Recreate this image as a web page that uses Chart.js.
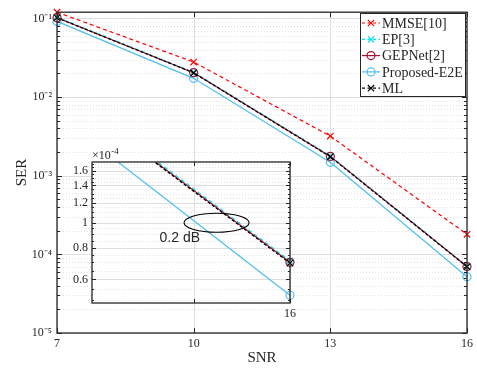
<!DOCTYPE html>
<html><head><meta charset="utf-8">
<script src="https://cdn.jsdelivr.net/npm/chart.js@4/dist/chart.umd.min.js"></script>
<style>
html,body{margin:0;padding:0;background:#fff;}
#wrap{position:relative;width:477px;height:377px;overflow:hidden;}
#main{position:absolute;left:0;top:0;}
#inset{position:absolute;left:60px;top:145px;}
</style></head><body>
<div id="wrap"><canvas id="main" width="477" height="377"></canvas><canvas id="inset" width="240" height="180"></canvas></div>
<script>
// ---- data ----
const snr = [7, 10, 13, 16];
const serMMSE = [0.12, 0.0279, 3.19e-3, 1.80e-4];
const serEP = [0.104, 0.0207, 1.79e-3, 7.1e-5];
const serGEPNet = [0.102, 0.0204, 1.76e-3, 7.0e-5];
const serProposed = [0.0917, 0.0173, 1.48e-3, 5.2e-5];
const serML = [0.102, 0.0203, 1.74e-3, 6.95e-5];
const seriesNames = ['MMSE[10]', 'EP[3]', 'GEPNet[2]', 'Proposed-E2E', 'ML'];
const xTicks = [7, 10, 13, 16];
const yTicks = [1e-5, 1e-4, 1e-3, 1e-2, 1e-1];
const insetXTicks = [15.4, 16];
const insetYTicks = [0.6e-4, 0.8e-4, 1e-4, 1.2e-4, 1.4e-4, 1.6e-4];
const xTitle = 'SNR';
const yTitle = 'SER';
const insetExponent = '-4';
const annotationText = '0.2 dB';
const ellipseAt = [15.54, 1.0e-4];
const annotationAt = [15.31, 0.869e-4];

// ---- styles ----
const SERIF = "'Liberation Serif','Times New Roman',serif";
const TXT = '#262626';
const styles = [
  {color:'#ff0000', dash:[4,3], marker:'crossRot', order:3},
  {color:'#00e5ee', dash:[4,3], marker:'crossRot', order:2},
  {color:'#a2142f', dash:[], marker:'circle', order:1},
  {color:'#4dbeee', dash:[], marker:'circle', order:4},
  {color:'#000000', dash:[3,2], marker:'crossRot', order:0}
];
const seriesData = [serMMSE, serEP, serGEPNet, serProposed, serML];

function makeDatasets(clip){
  return seriesData.map((arr, k) => ({
    label: seriesNames[k],
    data: snr.map((x, i) => ({x, y: arr[i]})),
    borderColor: styles[k].color,
    backgroundColor: 'rgba(0,0,0,0)',
    borderDash: styles[k].dash,
    borderWidth: 1.2,
    pointStyle: styles[k].marker,
    pointRadius: styles[k].marker === 'circle' ? 4 : 4.5,
    pointBorderWidth: 1.2,
    pointBorderColor: styles[k].color,
    pointBackgroundColor: 'rgba(0,0,0,0)',
    tension: 0,
    order: styles[k].order,
    clip: clip
  }));
}

function hline(ctx, x1, x2, y){ ctx.beginPath(); ctx.moveTo(x1, y); ctx.lineTo(x2, y); ctx.stroke(); }
function vline(ctx, x, y1, y2){ ctx.beginPath(); ctx.moveTo(x, y1); ctx.lineTo(x, y2); ctx.stroke(); }
const sup = {'-':'\u207B','0':'\u2070','1':'\u00B9','2':'\u00B2','3':'\u00B3','4':'\u2074','5':'\u2075'};
function decadeLabel(v){
  const e = String(Math.round(Math.log10(v)));
  return '10' + e.split('').map(c => sup[c]).join('');
}

function drawMarker(ctx, m, x, y, color){
  ctx.save();
  ctx.setLineDash([]);
  ctx.strokeStyle = color; ctx.lineWidth = 1.2;
  ctx.beginPath();
  if (m === 'circle') { ctx.arc(x, y, 4, 0, Math.PI*2); }
  else { const r = 3.2; ctx.moveTo(x-r, y-r); ctx.lineTo(x+r, y+r); ctx.moveTo(x-r, y+r); ctx.lineTo(x+r, y-r); }
  ctx.stroke();
  ctx.restore();
}

const mainDecor = {
  id: 'mainDecor',
  beforeDatasetsDraw(chart){
    const {ctx, chartArea:a, scales:{x, y}} = chart;
    ctx.save();
    ctx.lineWidth = 1;
    ctx.strokeStyle = '#e2e2e2';
    ctx.setLineDash([1, 2]);
    for (let d = -5; d <= -1; d++) for (let m = 2; m <= 9; m++) {
      const v = m * Math.pow(10, d);
      if (v >= y.max) continue;
      hline(ctx, a.left, a.right, Math.round(y.getPixelForValue(v)) + 0.5);
    }
    ctx.setLineDash([]);
    ctx.strokeStyle = '#dedede';
    yTicks.forEach(v => hline(ctx, a.left, a.right, Math.round(y.getPixelForValue(v)) + 0.5));
    xTicks.forEach(v => vline(ctx, Math.round(x.getPixelForValue(v)) + 0.5, a.top, a.bottom));
    ctx.restore();
  },
  afterDatasetsDraw(chart){
    const {ctx, chartArea:a, scales:{x, y}} = chart;
    ctx.save();
    ctx.strokeStyle = TXT; ctx.lineWidth = 1; ctx.setLineDash([]);
    for (let d = -5; d <= -1; d++) for (let m = 1; m <= 9; m++) {
      const v = m * Math.pow(10, d);
      if (v >= y.max) continue;
      const py = Math.round(y.getPixelForValue(v)) + 0.5;
      const len = m === 1 ? 5 : 3;
      hline(ctx, a.left, a.left + len, py);
      hline(ctx, a.right - len, a.right, py);
    }
    xTicks.forEach(v => {
      const px = Math.round(x.getPixelForValue(v)) + 0.5;
      vline(ctx, px, a.bottom - 5, a.bottom);
      vline(ctx, px, a.top, a.top + 5);
    });
    ctx.lineWidth = 1.3;
    ctx.strokeRect(a.left, a.top, a.right - a.left, a.bottom - a.top);
    ctx.restore();
  },
  afterDraw(chart){
    const ctx = chart.ctx;
    const bx = 360, by = 13, bw = 105, bh = 83;
    ctx.save();
    ctx.fillStyle = '#fff';
    ctx.fillRect(bx, by, bw, bh);
    ctx.strokeStyle = TXT; ctx.lineWidth = 1;
    ctx.strokeRect(bx + 0.5, by + 0.5, bw, bh);
    ctx.font = '14px ' + SERIF;
    ctx.textBaseline = 'middle';
    ctx.textAlign = 'left';
    seriesNames.forEach((name, i) => {
      const yy = by + 10 + i * 16.3;
      const s = styles[i];
      ctx.strokeStyle = s.color; ctx.lineWidth = 1.2;
      ctx.setLineDash(s.dash.length ? [3, 2.5] : []);
      hline(ctx, bx + 2, bx + 20, yy);
      drawMarker(ctx, s.marker, bx + 11, yy, s.color);
      ctx.setLineDash([]);
      ctx.fillStyle = TXT;
      ctx.fillText(name, bx + 22, yy + 1);
    });
    ctx.restore();
  }
};

new Chart(document.getElementById('main'), {
  type: 'line',
  data: { datasets: makeDatasets(false) },
  options: {
    responsive: false, animation: false, devicePixelRatio: 1,
    layout: { padding: {left: 0, right: 7, top: 7, bottom: 0} },
    plugins: { legend: {display: false}, tooltip: {enabled: false} },
    scales: {
      x: {
        type: 'linear', min: 7, max: 16,
        afterBuildTicks: s => { s.ticks = xTicks.map(v => ({value: v})); },
        afterFit: s => { s.height = 44; },
        grid: {display: false, drawTicks: false}, border: {display: false},
        ticks: {autoSkip: false, maxRotation: 0, padding: 4, color: TXT, font: {family: SERIF, size: 12}},
        title: {display: true, text: xTitle, color: TXT, font: {family: SERIF, size: 15}, padding: {top: 0, bottom: 10}}
      },
      y: {
        type: 'logarithmic', min: 1e-5, max: 0.12,
        afterBuildTicks: s => { s.ticks = yTicks.map(v => ({value: v})); },
        afterFit: s => { s.width = 57; },
        grid: {display: false, drawTicks: false}, border: {display: false},
        ticks: {autoSkip: false, padding: 5, color: TXT, font: {family: SERIF, size: 12}, callback: v => decadeLabel(v)},
        title: {display: true, text: yTitle, color: TXT, font: {family: SERIF, size: 15}, padding: {top: 13, bottom: 0}}
      }
    }
  },
  plugins: [mainDecor]
});

const insetDecor = {
  id: 'insetDecor',
  beforeDraw(chart){
    const {ctx, chartArea:a} = chart;
    ctx.save(); ctx.fillStyle = '#fff';
    ctx.fillRect(a.left, a.top, a.right - a.left, a.bottom - a.top);
    ctx.restore();
  },
  beforeDatasetsDraw(chart){
    const {ctx, chartArea:a, scales:{x, y}} = chart;
    ctx.save();
    ctx.lineWidth = 1;
    ctx.strokeStyle = '#e2e2e2';
    ctx.setLineDash([1, 2]);
    for (let k = 10; k <= 34; k++) {
      const v = k * 0.05e-4;
      if (v <= y.min || v >= y.max || k % 4 === 0) continue;
      hline(ctx, a.left, a.right, Math.round(y.getPixelForValue(v)) + 0.5);
    }
    ctx.setLineDash([]);
    ctx.strokeStyle = '#dedede';
    insetYTicks.forEach(v => hline(ctx, a.left, a.right, Math.round(y.getPixelForValue(v)) + 0.5));
    insetXTicks.forEach(v => vline(ctx, Math.round(x.getPixelForValue(v)) + 0.5, a.top, a.bottom));
    ctx.restore();
  },
  afterDatasetsDraw(chart){
    const {ctx, chartArea:a, scales:{x, y}} = chart;
    ctx.save();
    ctx.strokeStyle = TXT; ctx.lineWidth = 1; ctx.setLineDash([]);
    for (let k = 10; k <= 34; k++) {
      const v = k * 0.05e-4;
      if (v <= y.min || v >= y.max) continue;
      const py = Math.round(y.getPixelForValue(v)) + 0.5;
      const len = k % 4 === 0 ? 4 : 2;
      hline(ctx, a.left, a.left + len, py);
      hline(ctx, a.right - len, a.right, py);
    }
    insetXTicks.forEach(v => {
      const px = Math.round(x.getPixelForValue(v)) + 0.5;
      vline(ctx, px, a.bottom - 4, a.bottom);
      vline(ctx, px, a.top, a.top + 4);
    });
    ctx.lineWidth = 1.3;
    ctx.strokeRect(a.left, a.top, a.right - a.left, a.bottom - a.top);
    // exponent label
    ctx.fillStyle = TXT;
    ctx.textBaseline = 'alphabetic'; ctx.textAlign = 'left';
    ctx.font = '12px ' + SERIF;
    ctx.fillText('\u00D710', a.left, a.top - 3);
    const w = ctx.measureText('\u00D710').width;
    ctx.font = '9px ' + SERIF;
    ctx.fillText(insetExponent, a.left + w + 0.5, a.top - 8);
    // ellipse annotation
    ctx.lineWidth = 1.1; ctx.strokeStyle = '#000';
    ctx.beginPath();
    ctx.ellipse(x.getPixelForValue(ellipseAt[0]), y.getPixelForValue(ellipseAt[1]), 32.5, 9.5, 0, 0, Math.PI * 2);
    ctx.stroke();
    ctx.font = "14px 'Liberation Sans', Arial, sans-serif";
    ctx.textAlign = 'center'; ctx.textBaseline = 'middle';
    ctx.fillStyle = '#262626';
    ctx.fillText(annotationText, x.getPixelForValue(annotationAt[0]), y.getPixelForValue(annotationAt[1]));
    ctx.restore();
  }
};

new Chart(document.getElementById('inset'), {
  type: 'line',
  data: { datasets: makeDatasets({left: 0, top: 0, right: 6, bottom: 6}) },
  options: {
    responsive: false, animation: false, devicePixelRatio: 1,
    layout: { padding: {left: 0, right: 8, top: 17, bottom: 0} },
    plugins: { legend: {display: false}, tooltip: {enabled: false} },
    scales: {
      x: {
        type: 'linear', min: 14.76, max: 16,
        afterBuildTicks: s => { s.ticks = insetXTicks.map(v => ({value: v})); },
        afterFit: s => { s.height = 22; },
        grid: {display: false, drawTicks: false}, border: {display: false},
        ticks: {autoSkip: false, maxRotation: 0, padding: 4, color: TXT, font: {family: SERIF, size: 12},
          callback: v => (v === 16 ? '16' : '')}
      },
      y: {
        type: 'logarithmic', min: 0.485e-4, max: 1.73e-4,
        afterBuildTicks: s => { s.ticks = insetYTicks.map(v => ({value: v})); },
        afterFit: s => { s.width = 32; },
        grid: {display: false, drawTicks: false}, border: {display: false},
        ticks: {autoSkip: false, padding: 4, color: TXT, font: {family: SERIF, size: 12},
          callback: v => String(+(v / 1e-4).toFixed(1))}
      }
    }
  },
  plugins: [insetDecor]
});
</script>
</body></html>
